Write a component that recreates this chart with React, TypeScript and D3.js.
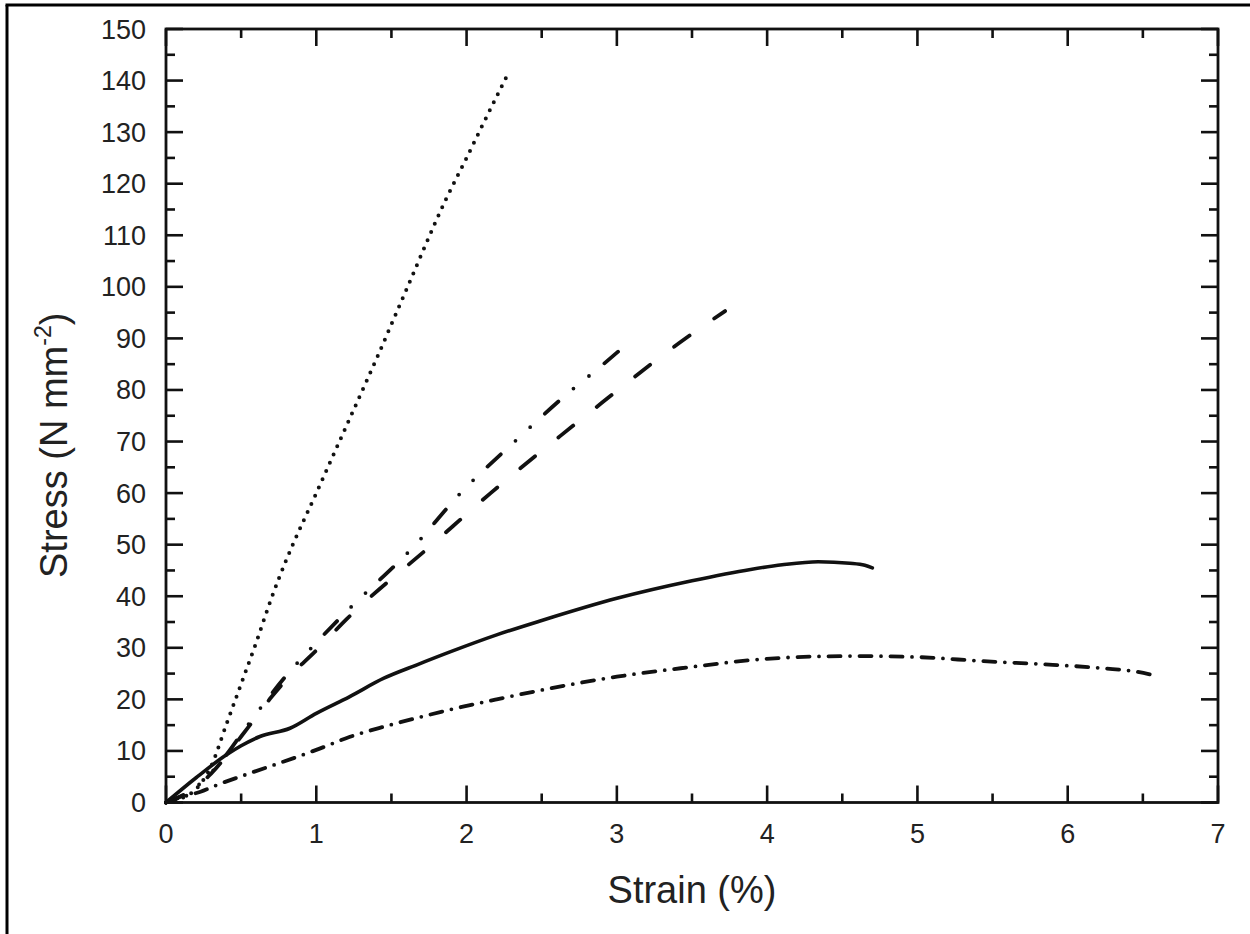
import React from 'react';
import * as d3 from 'd3';

const WIDTH = 1250;
const HEIGHT = 934;

// Axis ticks
const X_MAJOR = [0, 1, 2, 3, 4, 5, 6, 7];
const X_MINOR = [0.5, 1.5, 2.5, 3.5, 4.5, 5.5, 6.5];
const Y_MAJOR = [0, 10, 20, 30, 40, 50, 60, 70, 80, 90, 100, 110, 120, 130, 140, 150];
const Y_MINOR = [5, 15, 25, 35, 45, 55, 65, 75, 85, 95, 105, 115, 125, 135, 145];

// Series: [strain %, stress N mm^-2]
const dottedSeries: [number, number][] = [
  [0, 0], [0.1, 0.8], [0.2, 2.6], [0.3, 7], [0.4, 15], [0.5, 23], [0.6, 31], [0.7, 39.5],
  [0.8, 47], [1.0, 60], [1.2, 73], [1.4, 86], [1.6, 99.5], [1.86, 116.8], [2.0, 125],
  [2.1, 131], [2.27, 141],
];

const dashDotDotSeries: [number, number][] = [
  [0, 0], [0.2, 3], [0.3, 5.8], [0.4, 9.2], [0.5, 13.2], [0.6, 17.2], [0.7, 21], [0.8, 24.6],
  [1.0, 31], [1.2, 37], [1.66, 50], [1.96, 60], [2.32, 70], [2.7, 80], [2.89, 84.5], [3.09, 89.5],
];

const dashedSeries: [number, number][] = [
  [0, 0], [0.2, 3], [0.3, 5.6], [0.4, 9], [0.5, 12.8], [0.6, 16.6], [0.7, 20.4], [0.8, 23.8],
  [1.0, 29.5], [1.2, 35.5], [1.77, 50], [2.16, 60], [2.62, 71], [2.9, 77.5], [3.16, 83.5],
  [3.41, 89], [3.72, 95.3],
];

const solidSeries: [number, number][] = [
  [0, 0], [0.2, 4.8], [0.4, 9.2], [0.5, 11], [0.625, 12.8], [0.825, 14.4], [1.0, 17.3],
  [1.22, 20.5], [1.45, 24.1], [1.67, 26.7], [1.89, 29.2], [2.2, 32.5], [2.5, 35.3],
  [3.0, 39.6], [3.5, 43], [3.89, 45.2], [4.1, 46.1], [4.34, 46.7], [4.55, 46.4],
  [4.65, 46], [4.7, 45.5],
];

const dashDotSeries: [number, number][] = [
  [0, 0], [0.1, 1.0], [0.23, 2.1], [0.34, 3.4], [0.56, 5.7], [0.78, 7.9], [1.0, 10.2],
  [1.22, 12.7], [1.45, 14.7], [1.67, 16.4], [1.89, 18.0], [2.2, 20], [2.5, 21.8],
  [3.0, 24.4], [3.5, 26.3], [3.89, 27.6], [4.3, 28.3], [4.62, 28.4], [5.0, 28.2],
  [5.44, 27.4], [5.9, 26.7], [6.25, 26.0], [6.45, 25.4], [6.6, 24.5],
];

const FONT = '"Liberation Sans", Arial, Helvetica, sans-serif';

export default function App() {
  const left = 166, right = 1218, top = 29, bottom = 802.5;
  const x = d3.scaleLinear().domain([0, 7]).range([left, right]);
  const y = d3.scaleLinear().domain([0, 150]).range([bottom, top]);
  const line = d3
    .line<[number, number]>()
    .x((d) => x(d[0]))
    .y((d) => y(d[1]))
    .curve(d3.curveMonotoneX);

  const MAJ = 17;
  const MIN = 9;
  const tickW = 2.6;

  return (
    <svg
      width={WIDTH}
      height={HEIGHT}
      style={{ position: 'absolute', left: 0, top: 0, background: '#fff' }}
      fontFamily={FONT}
    >
      <rect x={0} y={0} width={WIDTH} height={HEIGHT} fill="#fff" />
      {/* outer frame (partial) */}
      <line x1={7} y1={5} x2={7} y2={HEIGHT} stroke="#000" strokeWidth={3} />
      <line x1={5.5} y1={5} x2={WIDTH} y2={5} stroke="#000" strokeWidth={3} />

      {/* series */}
      <g fill="none" stroke="#111" strokeLinecap="round" strokeLinejoin="round">
        <path d={line(solidSeries) || ''} strokeWidth={3.6} />
        <path d={line(dashDotSeries) || ''} strokeWidth={3.8} strokeDasharray="12 9.5 0 9.5" />
        <path d={line(dashedSeries) || ''} strokeWidth={3.8} strokeDasharray="19 30" />
        <path d={line(dashDotDotSeries) || ''} strokeWidth={3.8} strokeDasharray="18 20 0 20 0 20" />
        <path d={line(dottedSeries) || ''} strokeWidth={4} strokeDasharray="0 9" />
      </g>

      {/* ticks */}
      <g stroke="#111" strokeWidth={tickW}>
        {X_MAJOR.map((v) => (
          <g key={'xm' + v}>
            <line x1={x(v)} x2={x(v)} y1={bottom} y2={bottom - MAJ} />
            <line x1={x(v)} x2={x(v)} y1={top} y2={top + MAJ} />
          </g>
        ))}
        {X_MINOR.map((v) => (
          <g key={'xn' + v}>
            <line x1={x(v)} x2={x(v)} y1={bottom} y2={bottom - MIN} />
            <line x1={x(v)} x2={x(v)} y1={top} y2={top + MIN} />
          </g>
        ))}
        {Y_MAJOR.map((v) => (
          <g key={'ym' + v}>
            <line x1={left} x2={left + MAJ} y1={y(v)} y2={y(v)} />
            <line x1={right} x2={right - MAJ} y1={y(v)} y2={y(v)} />
          </g>
        ))}
        {Y_MINOR.map((v) => (
          <g key={'yn' + v}>
            <line x1={left} x2={left + MIN} y1={y(v)} y2={y(v)} />
            <line x1={right} x2={right - MIN} y1={y(v)} y2={y(v)} />
          </g>
        ))}
      </g>

      {/* plot frame */}
      <rect
        x={left}
        y={top}
        width={right - left}
        height={bottom - top}
        fill="none"
        stroke="#111"
        strokeWidth={2.8}
      />

      {/* tick labels */}
      <g fill="#222" fontSize={27}>
        {X_MAJOR.map((v) => (
          <text key={'xl' + v} x={x(v)} y={843} textAnchor="middle">
            {v}
          </text>
        ))}
        {Y_MAJOR.map((v) => (
          <text key={'yl' + v} x={146} y={y(v) + 9.5} textAnchor="end">
            {v}
          </text>
        ))}
      </g>

      {/* axis titles */}
      <text x={(left + right) / 2} y={903} textAnchor="middle" fontSize={38} fill="#222">
        Strain (%)
      </text>
      <text
        transform={`translate(67, 578) rotate(-90)`}
        textAnchor="start"
        fontSize={38}
        fill="#222"
      >
        Stress (N mm
        <tspan fontSize={23} dy={-16}>-2</tspan>
        <tspan dy={16}>)</tspan>
      </text>
    </svg>
  );
}
